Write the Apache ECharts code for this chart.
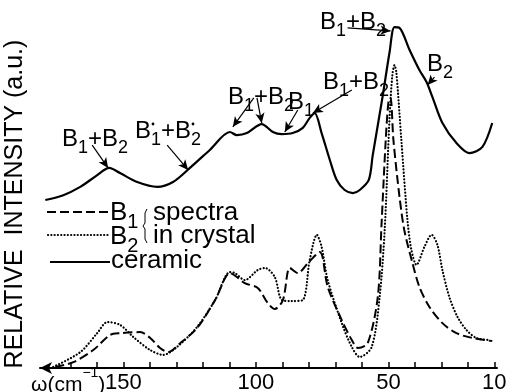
<!DOCTYPE html>
<html>
<head>
<meta charset="utf-8">
<script src="https://cdn.jsdelivr.net/npm/echarts@6/dist/echarts.min.js"></script>
<style>
  html, body { margin: 0; padding: 0; background: #fff; }
  #chart { width: 508px; height: 392px; }
</style>
</head>
<body>
<div id="chart"></div>
<script>
// Raman spectra: wavenumber (cm^-1) against relative intensity (a.u.)
const ceramicWavenumber = [179.5, 172.7, 166.3, 159.9, 155.4, 151.3, 144.8, 137.3, 131.3, 124.9, 117.4, 109.8, 107.2, 103.4, 97.8, 93.6, 90.2, 86.1, 82.3, 79.7, 77.8, 75.2, 72.1, 69.5, 66.5, 63.4, 60.8, 57.4, 55.9, 52.2, 49.6, 47.7, 45.8, 42.0, 38.3, 35.6, 33.4, 29.6, 24.3, 19.4, 14.5, 10.8];
const ceramicIntensity  = [48.7, 50.1, 52.5, 55.9, 58.0, 56.5, 53.9, 52.5, 53.9, 58.0, 63.2, 68.4, 67.5, 68.1, 70.7, 68.4, 67.8, 68.1, 69.6, 72.5, 73.9, 68.1, 60.3, 54.5, 51.6, 50.7, 51.6, 54.5, 61.7, 78.6, 91.3, 98.8, 98.6, 92.2, 86.4, 82.9, 78.6, 71.0, 65.2, 62.3, 64.1, 71.0];

const b1Wavenumber = [175.7, 168.9, 161.4, 155.0, 151.3, 143.7, 139.9, 136.2, 133.2, 128.6, 122.2, 115.4, 109.8, 107.2, 104.2, 99.3, 95.5, 92.9, 89.8, 87.2, 84.2, 80.4, 75.9, 72.9, 67.6, 63.8, 61.5, 57.8, 54.0, 52.6, 51.0, 49.9, 49.2, 48.1, 45.8, 44.0, 40.9, 38.3, 34.5, 29.6, 24.3, 18.3, 10.8];
const b1Intensity  = [0.3, 1.7, 5.2, 9.6, 10.1, 10.4, 8.7, 5.8, 4.6, 7.2, 11.6, 19.7, 27.5, 26.4, 24.6, 23.2, 18.8, 17.1, 19.7, 29.0, 27.5, 30.4, 33.6, 23.5, 13.9, 8.1, 5.8, 7.2, 20.6, 41.4, 66.1, 77.7, 78.3, 66.1, 49.6, 40.0, 30.4, 23.5, 17.7, 13.0, 10.1, 8.7, 7.8];

const b2Wavenumber = [176.5, 166.3, 159.9, 156.1, 151.3, 146.3, 139.9, 135.0, 129.8, 122.2, 115.4, 109.8, 107.9, 104.2, 99.3, 96.6, 92.9, 90.2, 86.5, 82.3, 79.7, 77.0, 75.2, 72.9, 67.6, 63.8, 60.8, 56.3, 53.3, 51.4, 49.6, 48.5, 47.7, 47.0, 45.1, 42.8, 41.3, 39.4, 36.4, 33.7, 31.5, 29.6, 27.0, 23.9, 20.5, 16.8, 11.9];
const b2Intensity  = [0.3, 4.6, 10.1, 13.3, 12.5, 9.0, 5.2, 3.8, 6.1, 11.9, 19.7, 27.8, 27.5, 25.5, 28.4, 29.0, 26.4, 19.7, 19.4, 19.7, 31.3, 38.6, 35.1, 25.5, 13.0, 6.1, 3.2, 6.1, 20.6, 40.0, 71.9, 84.9, 87.8, 85.8, 66.1, 42.9, 34.2, 29.9, 35.1, 38.6, 35.7, 28.4, 20.6, 14.8, 11.0, 8.7, 8.1];

const tickValues = [170, 160, 150, 140, 130, 120, 110, 100, 90, 80, 70, 60, 50, 40, 30, 20, 10];
const tickLabels = [150, 100, 50, 10];

// Mode-assignment arrows: [fromWavenumber, fromIntensity, toWavenumber, toIntensity]
const assignmentArrows = [
  [65.4, 98.6, 49.2, 97.7],
  [32.6, 84.3, 35.2, 82.0],
  [63.8, 80.6, 78.5, 73.9],
  [100.8, 78.3, 108.7, 69.9],
  [99.6, 78.3, 97.8, 71.0],
  [84.2, 74.8, 89.1, 68.4],
  [161.8, 64.6, 155.8, 58.0],
  [133.5, 64.6, 125.6, 57.4]
];

const FONT = '"Liberation Sans", Arial, sans-serif';
const pairs = (xs, ys) => xs.map((x, i) => [x, ys[i]]);

const labelRich = {
  m: { fontSize: 24, fontFamily: FONT, lineHeight: 30, verticalAlign: 'top', fill: '#000' },
  s: { fontSize: 18, fontFamily: FONT, verticalAlign: 'bottom', fill: '#000' }
};
const legendRich = {
  m: { fontSize: 26, fontFamily: FONT, lineHeight: 32, verticalAlign: 'top', fill: '#000' },
  s: { fontSize: 20, fontFamily: FONT, verticalAlign: 'bottom', fill: '#000' }
};

function label(x, y, text, rich) {
  return {
    type: 'text', x: x, y: y, silent: true,
    style: { text: text, rich: rich || labelRich, align: 'left', verticalAlign: 'top', fill: '#000' }
  };
}

const chart = echarts.init(document.getElementById('chart'), null, { renderer: 'canvas' });

chart.setOption({
  backgroundColor: '#fff',
  animation: false,
  grid: { left: 40, right: 11, top: 23, bottom: 24, containLabel: false, outerBoundsMode: 'none' },
  xAxis: {
    type: 'value',
    inverse: true,
    min: 9,
    max: 181.5,
    axisLine: {
      show: true,
      lineStyle: { color: '#000', width: 2 },
      symbol: ['arrow', 'none'],
      symbolSize: [9, 12]
    },
    axisTick: {
      show: true, inside: true, length: 6,
      lineStyle: { color: '#000', width: 1.5 },
      customValues: tickValues
    },
    axisLabel: {
      color: '#000', fontSize: 22, fontFamily: FONT, margin: 4,
      customValues: tickLabels
    },
    splitLine: { show: false }
  },
  yAxis: { type: 'value', min: 0, max: 100, show: false },
  series: [
    {
      name: 'ceramic', type: 'line', data: pairs(ceramicWavenumber, ceramicIntensity),
      smooth: 0.3, symbol: 'none',
      lineStyle: { color: '#000', width: 2.2 },
      markLine: {
        silent: true, animation: false,
        symbol: ['none', 'arrow'], symbolSize: [7, 10],
        label: { show: false },
        lineStyle: { color: '#000', width: 1.2, type: 'solid' },
        data: assignmentArrows.map(a => [{ coord: [a[0], a[1]] }, { coord: [a[2], a[3]] }])
      }
    },
    {
      name: 'B1', type: 'line', data: pairs(b1Wavenumber, b1Intensity),
      smooth: 0.3, symbol: 'none',
      lineStyle: { color: '#000', width: 2, type: [9, 4] }
    },
    {
      name: 'B2', type: 'line', data: pairs(b2Wavenumber, b2Intensity),
      smooth: 0.3, symbol: 'none',
      lineStyle: { color: '#000', width: 2.2, type: [0.1, 3.2], cap: 'round' }
    }
  ],
  graphic: [
    // vertical axis title
    {
      type: 'text', x: 15, y: 204, rotation: Math.PI / 2, silent: true,
      style: { text: 'RELATIVE  INTENSITY (a.u.)', fontSize: 25, fontFamily: FONT, fill: '#000', align: 'center', verticalAlign: 'middle' }
    },
    // horizontal axis unit
    {
      type: 'text', x: 31, y: 366, silent: true,
      style: {
        text: '{n|ω(cm}{u|−1}{n|)}', align: 'left', verticalAlign: 'top',
        rich: {
          n: { fontSize: 21, fontFamily: FONT, lineHeight: 30, verticalAlign: 'bottom', fill: '#000' },
          u: { fontSize: 14, fontFamily: FONT, verticalAlign: 'top', fill: '#000' }
        }
      }
    },
    // band assignments
    label(320, 10, '{m|B}{s|1}{m|+B}{s|2}'),
    label(427, 52, '{m|B}{s|2}'),
    label(323, 70, '{m|B}{s|1}{m|+B}{s|2}'),
    label(228, 85, '{m|B}{s|1}{m|+B}{s|2}'),
    label(288, 90, '{m|B}{s|1}'),
    label(62, 127, '{m|B}{s|1}{m|+B}{s|2}'),
    label(135, 119, '{m|B}{s|1}{m|+B}{s|2}'),
    { type: 'circle', silent: true, shape: { cx: 153, cy: 124, r: 1.4 }, style: { fill: '#000' } },
    { type: 'circle', silent: true, shape: { cx: 193, cy: 124, r: 1.4 }, style: { fill: '#000' } },
    // legend
    { type: 'line', silent: true, shape: { x1: 47, y1: 212, x2: 108, y2: 212 }, style: { stroke: '#000', lineWidth: 2, lineDash: [9, 4] } },
    { type: 'line', silent: true, shape: { x1: 48, y1: 235, x2: 108, y2: 235 }, style: { stroke: '#000', lineWidth: 2.2, lineDash: [0.1, 3.2], lineCap: 'round' } },
    { type: 'line', silent: true, shape: { x1: 50, y1: 262, x2: 110, y2: 262 }, style: { stroke: '#000', lineWidth: 2.2 } },
    label(110, 200, '{m|B}{s|1}', legendRich),
    label(110, 224, '{m|B}{s|2}', legendRich),
    {
      type: 'polyline', silent: true,
      shape: { points: [[147, 209], [145, 213], [145, 223], [143, 226], [145, 229], [145, 239], [147, 243]] },
      style: { stroke: '#000', lineWidth: 1, fill: null }
    },
    { type: 'text', x: 153, y: 200, silent: true, style: { text: 'spectra', fontSize: 26, fontFamily: FONT, fill: '#000', align: 'left', verticalAlign: 'top' } },
    { type: 'text', x: 153, y: 223, silent: true, style: { text: 'in crystal', fontSize: 26, fontFamily: FONT, fill: '#000', align: 'left', verticalAlign: 'top' } },
    { type: 'text', x: 111, y: 248, silent: true, style: { text: 'ceramic', fontSize: 26, fontFamily: FONT, fill: '#000', align: 'left', verticalAlign: 'top' } }
  ]
});
</script>
</body>
</html>
